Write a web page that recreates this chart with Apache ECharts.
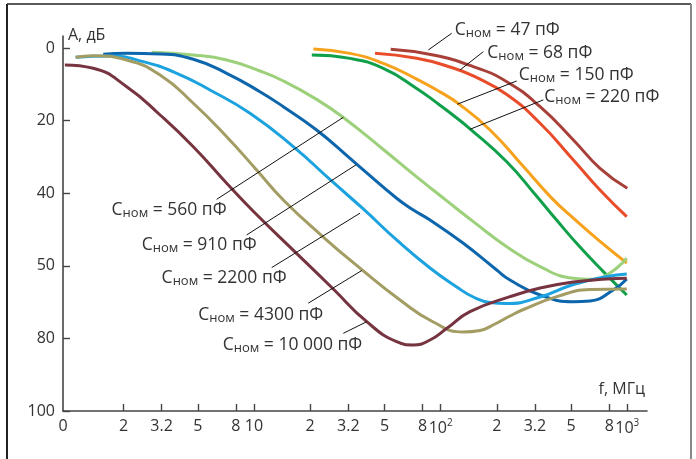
<!DOCTYPE html>
<html><head><meta charset="utf-8">
<script src="https://cdn.jsdelivr.net/npm/echarts@6/dist/echarts.min.js"></script>
<style>html,body{margin:0;padding:0;background:#fff}#c{width:696px;height:459px}</style>
</head><body><div id="c"></div>
<script>
// Frequency f in MHz, attenuation A in dB, one pair of arrays per nominal capacitance
const capLabels = ['47', '68', '150', '220', '560', '910', '2200', '4300', '10 000'];

const f47 = [54, 91.3, 149.6, 226, 341, 514, 714, 1000];
const a47 = [0.36, 1.93, 5.15, 9.28, 16.17, 25.34, 33.14, 38.65];

const f68 = [44.5, 74.4, 112.2, 149.6, 226, 341, 514, 714, 993];
const a68 = [1.46, 2.84, 5.23, 7.71, 12.81, 20.74, 30.85, 39.12, 46.47];

const f150 = [20.8, 32.7, 49.3, 74.4, 99.2, 124, 184, 277.5, 393.6, 514, 714, 993];
const a150 = [0.28, 1.49, 4.24, 8.57, 12.09, 15.26, 22.59, 32.67, 41.35, 46.89, 53.28, 59.23];

const f220 = [20.4, 32.7, 49.3, 74.4, 99.2, 112.2, 143.6, 226, 327, 419, 558, 744, 993];
const a220 = [1.93, 2.87, 5.62, 11.13, 15.76, 17.85, 22.26, 31.35, 40.85, 47.47, 54.85, 61.6, 68.04];

const f560 = [2.83, 4.73, 7.14, 10.76, 14.36, 21.65, 30.1, 49.3, 74.4, 108, 149.6, 226, 341, 514, 631, 776, 993];
const a560 = [1.18, 1.93, 3.31, 6.34, 9.09, 14.16, 19.15, 27.96, 35.51, 42.12, 47.82, 54.74, 60.25, 63.44, 63.72, 62.53, 57.93];

const f910 = [1.557, 2.08, 3.14, 4.73, 7.14, 10.76, 14.36, 21.65, 32.7, 38.5, 58.1, 71.4, 87.7, 132.3, 199.7, 235.2, 341, 514, 631, 841, 993];
const a910 = [1.74, 1.46, 1.65, 3.11, 6.97, 12.04, 16.17, 22.59, 30.39, 33.6, 41.4, 44.63, 47.38, 53.8, 61.16, 63.91, 68.04, 69.89, 69.7, 66.67, 63.64];

const f2200 = [1.108, 1.693, 2.55, 3.86, 5.81, 9.52, 16.24, 26.6, 38.5, 58.1, 87.7, 122, 149.6, 184, 226, 341, 514, 776, 993];
const a2200 = [2.56, 2.2, 3.77, 6.97, 11.57, 17.99, 27.19, 37.05, 44.35, 52.89, 60.61, 65.84, 68.6, 70.11, 70.39, 68.6, 65.15, 62.95, 62.26];

const f4300 = [1.108, 1.377, 2.08, 3.14, 4.73, 7.14, 10.33, 14.36, 23.5, 37.8, 60.6, 91.3, 132.3, 162.5, 195.6, 235.2, 277.5, 419, 631, 993];
const a4300 = [2.56, 2.12, 3.31, 7.44, 15.23, 24.44, 33.6, 41.87, 52.07, 61.05, 69.42, 75.48, 78.24, 77.82, 76.03, 73.83, 72.04, 68.51, 66.53, 66.39];

const f10000 = [0.97, 1.377, 2.08, 3.14, 4.73, 7.14, 9.88, 16.9, 26.6, 40.2, 58.1, 71.4, 87.7, 108, 143.6, 235.2, 341, 514, 776, 993];
const a10000 = [4.68, 5.59, 10.66, 18.46, 27.19, 37.27, 44.9, 56.56, 66.39, 75.4, 80.91, 81.82, 80.44, 77.22, 72.64, 68.51, 66.12, 64.46, 63.64, 63.44];

// leader lines: outer end (at the label) and inner end (on the curve)
const leaderOuterF = [114.6, 169.3, 255.5, 354.8, 6.31, 9.14, 12.44, 19.54, 30.1];
const leaderOuterA = [-4.05, 1.02, 9.09, 14.3, 41.7, 51.5, 60.5, 70.3, 78.6];
const leaderInnerF = [85.9, 127, 122.8, 143.6, 30.1, 35.2, 37.0, 37.8, 40.2];
const leaderInnerA = [0.55, 6.06, 15.5, 22.4, 19.1, 32.2, 45.5, 61.3, 75.4];

// axis ticks
const xTickF = [2, 3.2, 5, 8, 10, 20, 32, 50, 80, 100, 200, 320, 500, 800, 1000];
const xTickText = ['2', '3.2', '5', '8', '10', '2', '3.2', '5', '8', '{b|10}{p|2}', '2', '3.2', '5', '8', '{b|10}{p|3}'];
const xOriginF = 0.948, xOriginText = '0', xEndF = 1275;
const yTicks = [0, 20, 40, 60, 80, 100];
const yTickText = ['0', '20', '40', '50', '80', '100'];
const yTop = -3.3, yBottom = 100;

const FONT = 'Open Sans';
const L = Math.log10;
const pts = (f, a) => f.map((v, i) => [L(v), a[i]]);

const curveSets = [
  [f47, a47, '#a8403a'], [f68, a68, '#e84c2a'], [f150, a150, '#f6a21c'], [f220, a220, '#10a04a'],
  [f560, a560, '#9dd07a'], [f910, a910, '#0d66ac'], [f2200, a2200, '#1ca2de'], [f4300, a4300, '#a39c63'],
  [f10000, a10000, '#763340']
];

const labelOffsets = [[3, -3], [4, 1.5], [2, -6], [1, -3], [10, 10.5], [10, 10], [15, 10.5], [15, 11.7], [19, 11.7]];
const labelAlign = ['left', 'left', 'left', 'left', 'right', 'right', 'right', 'right', 'right'];

const rich = {
  c: { fontFamily: FONT, fontSize: 17.5, color: '#333', lineHeight: 20, verticalAlign: 'middle' },
  s: { fontFamily: FONT, fontSize: 13, color: '#333', lineHeight: 13, padding: [7, 0, 0, 0], verticalAlign: 'middle' },
  n: { fontFamily: FONT, fontSize: 17.5, color: '#333', lineHeight: 20, verticalAlign: 'middle' }
};

const series = [];
curveSets.forEach(([f, a, color]) => {
  series.push({
    type: 'line', data: pts(f, a), smooth: 0.5, symbol: 'none', showSymbol: false,
    lineStyle: { color: color, width: 3 }, clip: false, z: 2, silent: true
  });
});
capLabels.forEach((cap, i) => {
  series.push({
    type: 'line', symbol: 'circle', symbolSize: 1, showSymbol: true, clip: false, z: 3, silent: true,
    itemStyle: { color: 'rgba(0,0,0,0)' },
    lineStyle: { color: '#111', width: 1 },
    label: { show: false },
    data: [
      {
        value: [L(leaderOuterF[i]), leaderOuterA[i]],
        label: {
          show: true, position: 'inside', align: labelAlign[i], verticalAlign: 'middle',
          offset: labelOffsets[i], color: '#333',
          formatter: '{c|C}{s|ном}{n| = ' + cap + ' пФ}', rich: rich
        }
      },
      { value: [L(leaderInnerF[i]), leaderInnerA[i]] }
    ]
  });
});

const xLabelVals = [L(xOriginF)].concat(xTickF.map(L));
const xLabelTexts = [xOriginText].concat(xTickText);

const option = {
  animation: false,
  backgroundColor: '#fff',
  grid: { left: 63, right: 49, top: 36, bottom: 48, containLabel: false, outerBoundsMode: 'none' },
  xAxis: {
    type: 'value', min: L(xOriginF), max: L(xEndF),
    name: 'f, МГц', nameLocation: 'end', nameGap: 0, nameMoveOverlap: false,
    nameTextStyle: { fontFamily: FONT, fontSize: 16, color: '#333', align: 'right', verticalAlign: 'bottom', padding: [0, 2, 14, 0] },
    axisLine: { show: true, onZero: false, lineStyle: { color: '#444', width: 1.6 } },
    axisTick: { show: true, inside: true, length: 7, lineStyle: { color: '#444', width: 1.4 }, customValues: xTickF.map(L) },
    axisLabel: {
      show: true, margin: 7, color: '#333', fontFamily: FONT, fontSize: 16,
      customValues: xLabelVals,
      formatter: function (v) {
        for (let i = 0; i < xLabelVals.length; i++) if (Math.abs(xLabelVals[i] - v) < 1e-6) return xLabelTexts[i];
        return '';
      },
      rich: {
        b: { fontFamily: FONT, fontSize: 16, color: '#333', lineHeight: 20, verticalAlign: 'middle' },
        p: { fontFamily: FONT, fontSize: 10, color: '#333', lineHeight: 10, padding: [0, 0, 10, 0], verticalAlign: 'middle' }
      }
    },
    splitLine: { show: false }
  },
  yAxis: {
    type: 'value', inverse: true, min: yTop, max: yBottom,
    name: 'A, дБ', nameLocation: 'start', nameGap: 1, nameMoveOverlap: false,
    nameTextStyle: { fontFamily: FONT, fontSize: 16, color: '#333', align: 'left', verticalAlign: 'middle', padding: [0, 0, 0, 5] },
    axisLine: { show: true, onZero: false, lineStyle: { color: '#444', width: 1.6 } },
    axisTick: { show: true, inside: true, length: 7, lineStyle: { color: '#444', width: 1.4 }, customValues: yTicks },
    axisLabel: {
      show: true, margin: 8, color: '#333', fontFamily: FONT, fontSize: 16,
      customValues: yTicks,
      formatter: function (v) {
        const i = yTicks.findIndex(t => Math.abs(t - v) < 1e-6);
        return i >= 0 ? yTickText[i] : '';
      }
    },
    splitLine: { show: false }
  },
  graphic: [
    { type: 'line', shape: { x1: 7, y1: 4, x2: 691, y2: 4 }, style: { stroke: '#222', lineWidth: 1.5 }, silent: true },
    { type: 'line', shape: { x1: 7, y1: 4, x2: 7, y2: 459 }, style: { stroke: '#222', lineWidth: 2 }, silent: true },
    { type: 'line', shape: { x1: 691, y1: 4, x2: 691, y2: 459 }, style: { stroke: '#888', lineWidth: 2 }, silent: true }
  ],
  series: series
};

const chart = echarts.init(document.getElementById('c'));
chart.setOption(option);
</script>
</body></html>
